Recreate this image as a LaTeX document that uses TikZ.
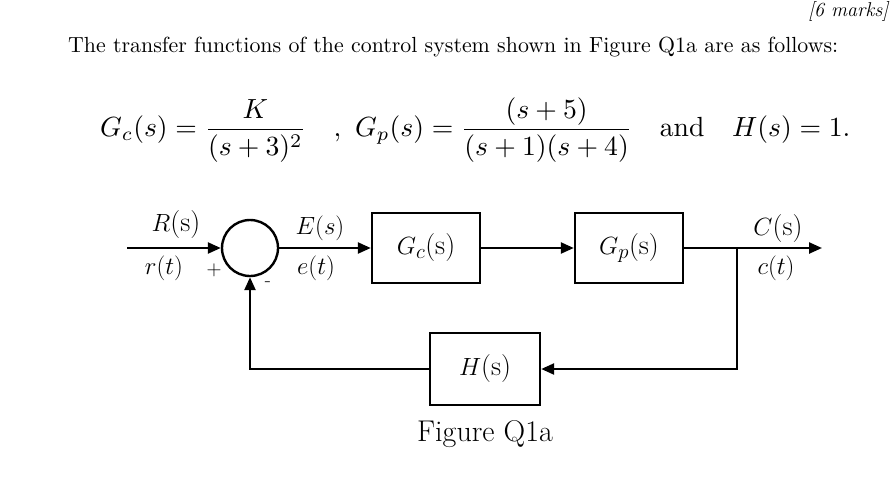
\documentclass[tikz,border=0pt]{standalone}
\usepackage{amsmath}
\usepackage{graphicx}
\usetikzlibrary{positioning,arrows.meta}
\begin{document}
\begin{tikzpicture}[x=1pt,y=-1pt,
    block/.style={rectangle, draw, line width=2.4pt, minimum width=108pt, minimum height=70pt, font=\fontsize{28}{32}\selectfont},
    sumnode/.style={circle, draw, line width=2.4pt, minimum size=56pt, inner sep=0pt},
    lbl/.style={font=\fontsize{28}{32}\selectfont, inner sep=0pt},
    arrow/.style={-{Triangle[length=13pt,width=11pt]}, line width=2.4pt}
]
    \useasboundingbox (0,0) rectangle (894,496);
    % Header text
    \node[font=\itshape\fontsize{20}{24}\selectfont, anchor=north east] (marks) at (892,-2) {[6 marks]};
    \node[anchor=west, inner sep=0pt] (intro) at (68,47) {\resizebox{770pt}{!}{The transfer functions of the control system shown in Figure Q1a are as follows:}};
    \node[anchor=west, inner sep=0pt] (eqn) at (100,130)
        {\resizebox{750pt}{!}{$G_c(s)=\dfrac{K}{(s+3)^2}\ \ \ ,\ G_p(s)=\dfrac{(s+5)}{(s+1)(s+4)}\ \ \ \text{and}\ \ \ H(s)=1.$}};

    % Blocks
    \coordinate (in) at (127,248);
    \node[sumnode] (sum) at (250,248) {};
    \node[block] (gc) at (426,248) {$G_c$(s)};
    \node[block] (gp) at (629,248) {$G_p$(s)};
    \node[block, minimum width=110pt, minimum height=72pt] (h) at (485,369) {$H$(s)};
    \coordinate (branch) at (737,248);
    \coordinate (out) at (822,248);

    % Arrows
    \draw[arrow] (in) -- (sum);
    \draw[arrow] (sum) -- (gc);
    \draw[arrow] (gc) -- (gp);
    \draw[arrow] (gp) -- (out);
    \draw[arrow] (branch) |- (h);
    \draw[arrow] (h) -| (sum);

    % Labels
    \node[lbl] (rs) at (176,225) {$R$(s)};
    \node[lbl] (rt) at (164,268) {$r(t)$};
    \node[lbl, font=\fontsize{20}{24}\selectfont] (plus) at (214,270) {$+$};
    \node[lbl, font=\fontsize{20}{24}\selectfont] (minus) at (268,284) {-};
    \node[lbl] (es) at (320,228) {$E(s)$};
    \node[lbl] (et) at (316,268) {$e(t)$};
    \node[lbl] (cs) at (778,229) {$C$(s)};
    \node[lbl] (ct) at (776,268) {$c(t)$};
    \node[font=\fontsize{30}{34}\selectfont] (fig) at (485,434) {Figure Q1a};
\end{tikzpicture}
\end{document}
